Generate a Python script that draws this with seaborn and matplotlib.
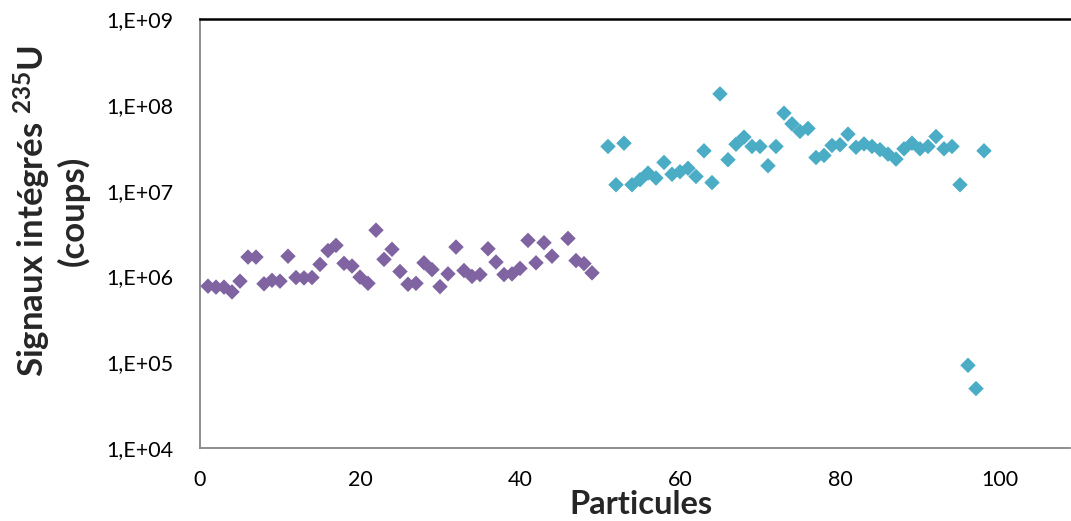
import matplotlib
matplotlib.use("Agg")
import matplotlib.pyplot as plt
import pandas as pd
import seaborn as sns
from matplotlib.ticker import FixedLocator, FixedFormatter, NullLocator

# Données (signal intégré 235U par particule)
part_a = list(range(1, 45)) + [46, 47, 48, 49]
sig_a = [7.7e5, 7.5e5, 7.5e5, 6.6e5, 8.8e5, 1.68e6, 1.68e6, 8.2e5, 9.0e5, 8.8e5,
         1.72e6, 9.7e5, 9.6e5, 9.7e5, 1.38e6, 2.0e6, 2.3e6, 1.42e6, 1.32e6, 9.8e5,
         8.3e5, 3.46e6, 1.58e6, 2.07e6, 1.14e6, 8.1e5, 8.3e5, 1.44e6, 1.2e6, 7.6e5,
         1.07e6, 2.2e6, 1.17e6, 1.0e6, 1.05e6, 2.1e6, 1.47e6, 1.05e6, 1.07e6, 1.24e6,
         2.63e6, 1.44e6, 2.47e6, 1.72e6, 2.77e6, 1.53e6, 1.41e6, 1.1e6]

part_b = list(range(51, 99))
sig_b = [3.27e7, 1.17e7, 3.57e7, 1.17e7, 1.34e7, 1.6e7, 1.4e7, 2.13e7, 1.55e7, 1.66e7,
         1.82e7, 1.46e7, 2.91e7, 1.24e7, 1.34e8, 2.29e7, 3.47e7, 4.2e7, 3.27e7, 3.27e7,
         1.95e7, 3.27e7, 8.0e7, 6.0e7, 4.9e7, 5.3e7, 2.43e7, 2.57e7, 3.36e7, 3.42e7,
         4.55e7, 3.2e7, 3.5e7, 3.27e7, 3.0e7, 2.66e7, 2.33e7, 3.07e7, 3.57e7, 3.07e7,
         3.27e7, 4.27e7, 3.07e7, 3.27e7, 1.17e7, 9.2e4, 4.93e4, 2.91e7]

y_ticks = [1e4, 1e5, 1e6, 1e7, 1e8, 1e9]
y_labels = ["1,E+04", "1,E+05", "1,E+06", "1,E+07", "1,E+08", "1,E+09"]
x_ticks = [0, 20, 40, 60, 80, 100]

df = pd.DataFrame({
    "particule": part_a + part_b,
    "signal": sig_a + sig_b,
    "groupe": ["A"] * len(part_a) + ["B"] * len(part_b),
})

sns.set_style("white")
plt.rcParams["font.family"] = ["Lato", "DejaVu Sans"]
plt.rcParams["mathtext.fontset"] = "custom"
plt.rcParams["mathtext.bf"] = "Lato:bold"
plt.rcParams["mathtext.rm"] = "Lato"

fig = plt.figure(figsize=(10.71, 5.21), dpi=100)
ax = fig.add_axes([200 / 1071, 73 / 521, 870 / 1071, 429 / 521])

sns.scatterplot(data=df, x="particule", y="signal", hue="groupe",
                palette={"A": "#8064A2", "B": "#4BACC6"}, marker="D",
                s=62, linewidth=0, legend=False, ax=ax, zorder=3)

ax.set_yscale("log")
ax.set_ylim(1e4, 1e9)
ax.set_xlim(0, 108.75)
ax.yaxis.set_major_locator(FixedLocator(y_ticks))
ax.yaxis.set_major_formatter(FixedFormatter(y_labels))
ax.yaxis.set_minor_locator(NullLocator())
ax.set_xticks(x_ticks)

gris = "#868686"
ax.tick_params(axis="both", direction="in", length=5.5, width=1, color=gris,
               labelsize=15.5, labelcolor="black")
ax.tick_params(axis="y", pad=19)
ax.tick_params(axis="x", pad=15.5)

for side in ["left", "bottom"]:
    ax.spines[side].set_color(gris)
    ax.spines[side].set_linewidth(1.3)
ax.spines["right"].set_visible(False)
ax.spines["top"].set_color("black")
ax.spines["top"].set_linewidth(1.8)

ax.set_xlabel("")
ax.set_ylabel("")
fig.text(641 / 1071, 6.5 / 521, "Particules", ha="center", va="baseline",
         fontsize=23.5, fontweight="bold")
fig.text(51 / 1071, 1 - 211 / 521, "Signaux intégrés $\\mathbf{^{235}}$U\n(coups)",
         ha="center", va="center", rotation=90, fontsize=25, fontweight="bold",
         linespacing=1.12, multialignment="center")

fig.savefig("out.png", dpi=100)
